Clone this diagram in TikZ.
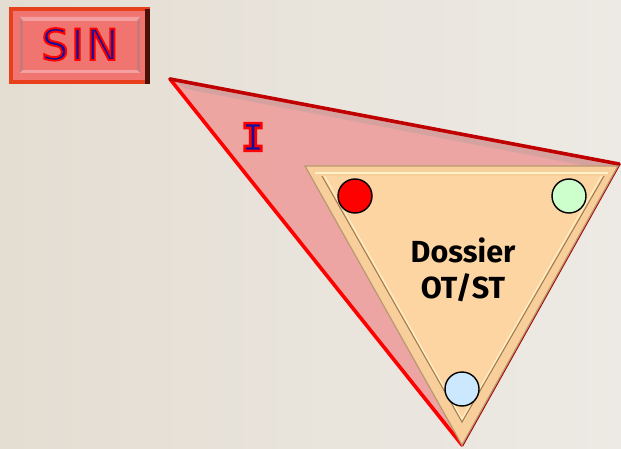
\documentclass[tikz,border=0pt]{standalone}
\usepackage{fontspec}
\setmainfont{Fira Sans}
\newfontfamily\signfnt[LetterSpace=6]{DejaVu Sans}
\newfontfamily\monofnt{DejaVu Sans Mono}
\usetikzlibrary{calc}
\definecolor{bgA}{HTML}{E4DDD2}
\definecolor{bgB}{HTML}{EDEAE5}
\definecolor{pinkfill}{HTML}{EEA2A0}
\definecolor{pinkband}{HTML}{D6A2A0}
\definecolor{darkred}{HTML}{C00000}
\definecolor{deepred}{HTML}{A80000}
\definecolor{peach}{HTML}{FDD5A2}
\definecolor{peachedge}{HTML}{B89870}
\definecolor{peachline}{HTML}{9C7A50}
\definecolor{peachlight}{HTML}{FFF2C8}
\definecolor{sinfill}{HTML}{F07570}
\definecolor{sinrim}{HTML}{C87878}
\definecolor{sinhi}{HTML}{F4A0A0}
\definecolor{sinedge}{HTML}{E8401C}
\definecolor{sindark}{HTML}{4A1008}
\definecolor{mintc}{HTML}{CCFFCC}
\definecolor{skyc}{HTML}{CCE8FF}
\definecolor{inkblue}{HTML}{1010A0}
\tikzset{
  dot/.style={circle, draw=black, line width=1.4pt, minimum size=34pt, inner sep=0pt},
  haloed/.style={inner sep=0pt, text=inkblue},
}
% blue glyphs stroked with a red outline (PDF text render mode 2)
\newcommand{\outlined}[2]{%
  \special{pdf:literal direct 1 0 0 RG #1 w 2 Tr}#2\special{pdf:literal direct 0 Tr 0.4 w}}
\begin{document}
\begin{tikzpicture}[x=1pt,y=-1pt]
  % background
  \shade[left color=bgA, right color=bgB] (0,0) rectangle (621,449);
  \useasboundingbox (0,0) rectangle (621,449);

  % big pink triangle
  \coordinate (A) at (170,79);
  \coordinate (B) at (619,164);
  \coordinate (C) at (462,445);
  \fill[pinkfill, opacity=0.95] (A) -- (B) -- (C) -- cycle;
  \fill[pinkband] (A) -- (B) -- ($(B)+(-12,6)$) -- ($(A)+(16,10)$) -- cycle;
  \draw[red, line width=3.6pt, line cap=round] (A) -- (C);
  \draw[darkred, line width=3.6pt, line cap=round] (A) -- (B);
  \draw[deepred, line width=3.2pt, line cap=round] (B) -- (C);

  % peach triangle with bevel
  \coordinate (P) at (305,166);
  \coordinate (Q) at (618,166);
  \coordinate (R) at (462,445);
  \coordinate (P2) at (322,176);
  \coordinate (Q2) at (604,176);
  \coordinate (R2) at (462,422);
  \fill[peach!92!brown] (P) -- (Q) -- (R) -- cycle;
  \fill[peach] (P2) -- (Q2) -- (R2) -- cycle;
  \draw[peachedge, line width=1.2pt] (P) -- (Q) -- (R) -- cycle;
  \draw[peachlight, line width=2.4pt] ($(P)+(10,7)$) -- ($(Q)+(-10,7)$);
  \draw[peachline, line width=1pt] (P2) -- (R2) -- (Q2);
  \draw[peachlight, line width=1pt] ($(P2)+(2.5,0)$) -- ($(R2)+(0,-3)$) -- ($(Q2)+(-2.5,0)$);

  % corner dots
  \node[dot, fill=red] (red dot) at (355,196) {};
  \node[dot, fill=mintc] (mint dot) at (569,196) {};
  \node[dot, fill=skyc] (sky dot) at (462,389) {};

  % label in the peach triangle
  \node[align=center, font=\fontsize{30.5}{36}\selectfont\bfseries, text=black] (dossier) at (463,270) {Dossier\\OT/ST};

  % SIN button
  \fill[sinedge] (9,7) rectangle (150,84);
  \fill[sindark] (145,9) rectangle (150,84);
  \fill[sinfill] (13,11) rectangle (145,80);
  \fill[sinrim] (20,17) rectangle (140,73);
  \fill[sinhi] (20,17) -- (140,17) -- (137,21) -- (23,21) -- cycle;
  \fill[sinhi] (20,73) -- (140,73) -- (137,70) -- (23,70) -- cycle;
  \fill[sinfill] (23,21) rectangle (137,70);
  \node[haloed, font=\signfnt\fontsize{43}{48}\selectfont, anchor=base] (sin) at (80,60) {\outlined{1.9}{SIN}};

  % label in the pink triangle
  \node[haloed, font=\monofnt\bfseries\fontsize{38}{42}\selectfont] (i) at (253,137) {\outlined{2.6}{I}};
\end{tikzpicture}
\end{document}
